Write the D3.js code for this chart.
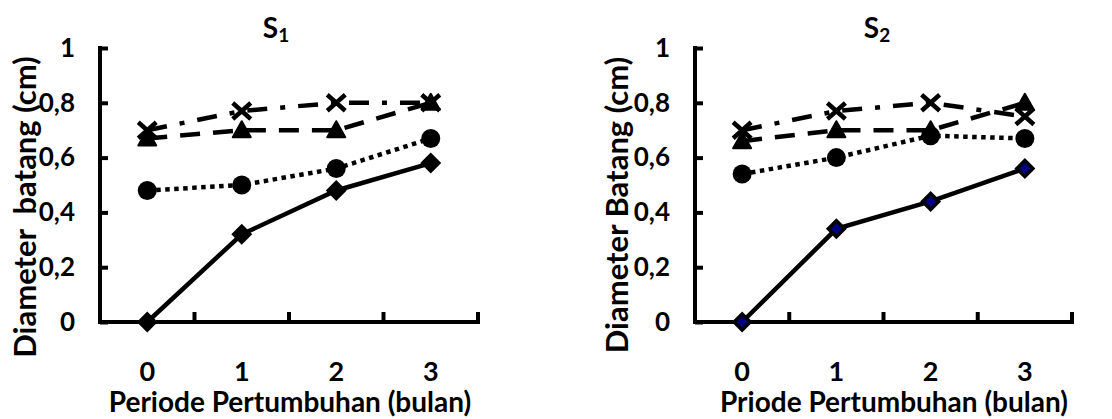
<!DOCTYPE html>
<html>
<head>
<meta charset="utf-8">
<script src="https://cdn.jsdelivr.net/npm/d3@7"></script>
<style>
  body { margin: 0; background: #fff; }
  text { font-family: Lato, sans-serif; font-weight: bold; fill: #000; }
</style>
</head>
<body>
<div id="chart"></div>
<script>
// growth period categories and y ticks
var periods = ["0", "1", "2", "3"];
var yTicks = [0, 0.2, 0.4, 0.6, 0.8, 1];
var yTickLabels = ["0", "0,2", "0,4", "0,6", "0,8", "1"];

// S1 series
var s1Diamond = [0, 0.32, 0.48, 0.58];
var s1Circle = [0.48, 0.50, 0.56, 0.67];
var s1Triangle = [0.67, 0.70, 0.70, 0.80];
var s1Cross = [0.70, 0.77, 0.80, 0.80];

// S2 series
var s2Diamond = [0, 0.34, 0.44, 0.56];
var s2Circle = [0.54, 0.60, 0.68, 0.67];
var s2Triangle = [0.66, 0.70, 0.70, 0.80];
var s2Cross = [0.70, 0.77, 0.80, 0.75];

var width = 1112, height = 419;

var svg = d3.select("#chart").append("svg")
  .attr("width", width)
  .attr("height", height);

// panel settings
var panels = [
  { x0: 100, x1: 478, sub: "1", yTitle: "Diameter  batang (cm)", xTitle: "Periode Pertumbuhan (bulan)",
    titleX: 276, yTitleX: 25, yTitleY: 207, xTitleX: 290, diamondFill: "#000",
    series: [s1Diamond, s1Circle, s1Triangle, s1Cross] },
  { x0: 695, x1: 1072, sub: "2", yTitle: "Diameter Batang (cm)", xTitle: "Priode Pertumbuhan (bulan)",
    titleX: 877, yTitleX: 617, yTitleY: 205, xTitleX: 894, diamondFill: "#000080",
    series: [s2Diamond, s2Circle, s2Triangle, s2Cross] }
];

var y = d3.scaleLinear().domain([0, 1]).range([322, 48]);

// line styles: solid, dotted, long dash, dash-dot
var styles = [
  { dash: null, w: 4.5 },
  { dash: "4.5,4.5", w: 4.5 },
  { dash: "20,13", w: 4.5 },
  { dash: "20,13,5,13", w: 4.5 }
];

panels.forEach(function(p) {
  var g = svg.append("g");
  var x = d3.scaleBand().domain(periods).range([p.x0, p.x1]);
  var cx = function(d, i) { return x(periods[i]) + x.bandwidth() / 2; };

  // title S with subscript
  var t = g.append("text")
    .attr("x", p.titleX)
    .attr("y", 38)
    .attr("text-anchor", "middle")
    .style("font-size", "28px");
  t.append("tspan").text("S");
  t.append("tspan").attr("dy", 4).style("font-size", "19px").text(p.sub);

  // y axis
  var yAxis = d3.axisLeft(y).tickValues(yTicks).tickSize(-8).tickPadding(25)
    .tickFormat(function(d, i) { return yTickLabels[i]; });
  var ya = g.append("g").attr("transform", "translate(" + p.x0 + ",0)").call(yAxis);
  ya.select(".domain").remove();
  ya.selectAll(".tick line").attr("stroke", "#000").attr("stroke-width", 4);
  ya.selectAll(".tick text").style("font-size", "26px").attr("font-family", null);

  // x axis labels
  var xAxis = d3.axisBottom(x).tickSize(0);
  var xa = g.append("g").attr("transform", "translate(0," + y(0) + ")").call(xAxis);
  xa.select(".domain").remove();
  xa.selectAll(".tick text").attr("y", 59).attr("dy", 0)
    .style("font-size", "27px").attr("font-family", null);

  // x tick marks between categories
  g.selectAll(".xtick").data(periods).enter().append("line")
    .attr("x1", function(d) { return x(d) + x.bandwidth(); })
    .attr("x2", function(d) { return x(d) + x.bandwidth(); })
    .attr("y1", y(0))
    .attr("y2", y(0) - 10)
    .attr("stroke", "#000").attr("stroke-width", 4);

  // axis lines
  g.append("path")
    .attr("d", "M" + p.x0 + "," + (y(1) - 2) + "V" + y(0) + "H" + p.x1 + "V" + (y(0) - 10))
    .attr("fill", "none").attr("stroke", "#000").attr("stroke-width", 4);

  // axis titles
  g.append("text")
    .attr("transform", "translate(" + p.yTitleX + "," + p.yTitleY + ")rotate(-90)")
    .attr("text-anchor", "middle")
    .attr("dy", "0.35em")
    .style("white-space", "pre")
    .style("font-size", "31px")
    .text(p.yTitle);

  g.append("text")
    .attr("x", p.xTitleX)
    .attr("y", 412)
    .attr("text-anchor", "middle")
    .style("font-size", "28px")
    .text(p.xTitle);

  // lines
  var line = d3.line().x(cx).y(function(d) { return y(d); });
  p.series.forEach(function(s, k) {
    g.append("path")
      .attr("d", line(s))
      .attr("fill", "none")
      .attr("stroke", "#000")
      .attr("stroke-width", styles[k].w)
      .attr("stroke-dasharray", styles[k].dash);
  });

  // markers
  g.selectAll(".diamond").data(p.series[0]).enter().append("path")
    .attr("d", "M0,-8L8,0L0,8L-8,0Z")
    .attr("transform", function(d, i) { return "translate(" + cx(d, i) + "," + y(d) + ")"; })
    .attr("fill", p.diamondFill).attr("stroke", "#000").attr("stroke-width", 3.5);

  g.selectAll(".circle").data(p.series[1]).enter().append("circle")
    .attr("cx", cx).attr("cy", function(d) { return y(d); })
    .attr("r", 9.5).attr("fill", "#000");

  g.selectAll(".tri").data(p.series[2]).enter().append("path")
    .attr("d", "M0,-9L9,7L-9,7Z")
    .attr("transform", function(d, i) { return "translate(" + cx(d, i) + "," + y(d) + ")"; })
    .attr("fill", "#000").attr("stroke", "#000").attr("stroke-width", 2)
    .attr("stroke-linejoin", "round");

  g.selectAll(".cross").data(p.series[3]).enter().append("path")
    .attr("d", "M-9,-8L9,8M9,-8L-9,8")
    .attr("transform", function(d, i) { return "translate(" + cx(d, i) + "," + y(d) + ")"; })
    .attr("fill", "none").attr("stroke", "#000").attr("stroke-width", 4.5);
});
</script>
</body>
</html>
